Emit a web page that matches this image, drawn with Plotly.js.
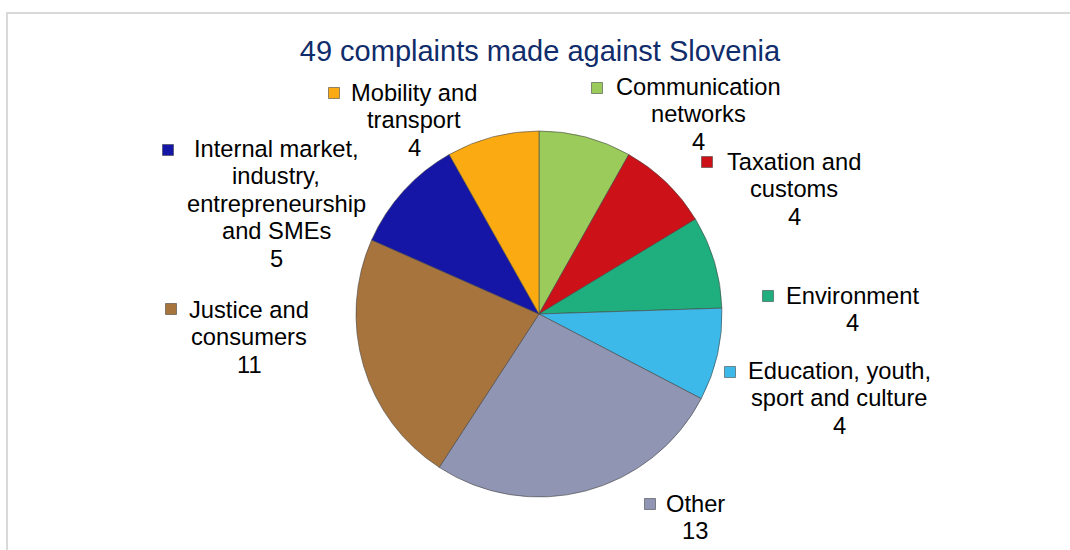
<!DOCTYPE html>
<html>
<head>
<meta charset="utf-8">
<script src="https://cdn.plot.ly/plotly-3.0.1.min.js"></script>
<style>
  html, body { margin: 0; padding: 0; background: #ffffff; }
  #chart { width: 1070px; height: 550px; }
</style>
</head>
<body>
<div id="chart"></div>
<script>
// ---- data ----
const chartTitle = "49 complaints made against Slovenia";
const categories = [
  "Communication<br>networks",
  "Taxation and<br>customs",
  "Environment",
  "Education, youth,<br>sport and culture",
  "Other",
  "Justice and<br>consumers",
  "Internal market,<br>industry,<br>entrepreneurship<br>and SMEs",
  "Mobility and<br>transport"
];
const complaints = [4, 4, 4, 4, 13, 11, 5, 4];
const sliceColors = ["#9BCB5B", "#CC1218", "#1FAF7E", "#3CB9E8", "#8F95B2", "#A8743D", "#1616A6", "#FBAA12"];

// ---- layout helpers (pixel positions of labels, not data) ----
const W = 1070, H = 550;
const labelAnchor = [[698, 95], [794, 170], [852, 304], [839, 379], [695, 512], [249, 318], [276, 157], [414, 101]];
const keyAnchor   = [[597, 88], [707, 162], [768, 296], [730, 372], [650, 504], [171, 309], [168, 150], [334, 93]];
const lineGap = 27.5;
const labelFont = 23.7;
const px = x => x / W;
const py = y => 1 - y / H;

const annotations = [];
const shapes = [];
categories.forEach((cat, i) => {
  const lines = cat.split("<br>").concat([String(complaints[i])]);
  const [cx, by] = labelAnchor[i];
  lines.forEach((ln, k) => {
    const baseline = by + k * lineGap;
    annotations.push({
      xref: "paper", yref: "paper",
      x: px(cx), y: py(baseline - 0.3465 * labelFont),
      xanchor: "center", yanchor: "middle",
      text: ln, showarrow: false,
      font: { family: "Liberation Sans, Arial, sans-serif", size: labelFont, color: "#000000" }
    });
  });
  const [kx, ky] = keyAnchor[i];
  shapes.push({
    type: "rect", xref: "paper", yref: "paper",
    x0: px(kx - 5.5), x1: px(kx + 5.5), y0: py(ky + 5.5), y1: py(ky - 5.5),
    fillcolor: sliceColors[i], line: { color: "rgba(60,60,60,0.55)", width: 1 }
  });
});

// chart frame
shapes.push({
  type: "rect", xref: "paper", yref: "paper",
  x0: px(7), x1: px(1085), y0: py(565), y1: py(13),
  fillcolor: "rgba(0,0,0,0)", line: { color: "#d9d9d9", width: 2 }
});

// pie domain: centre (539,314), radius 183 px
const cxP = 539, cyP = 314, R = 183;

const trace = {
  type: "pie",
  labels: categories,
  values: complaints,
  sort: false,
  direction: "clockwise",
  rotation: 0,
  textinfo: "none",
  hoverinfo: "label+value",
  showlegend: false,
  marker: { colors: sliceColors, line: { color: "rgba(70,70,70,0.6)", width: 1 } },
  domain: { x: [px(cxP - R), px(cxP + R)], y: [py(cyP + R), py(cyP - R)] }
};

const layout = {
  width: W, height: H,
  margin: { l: 0, r: 0, t: 0, b: 0 },
  paper_bgcolor: "#ffffff",
  plot_bgcolor: "#ffffff",
  title: {
    text: chartTitle,
    font: { family: "Liberation Sans, Arial, sans-serif", size: 29, color: "#102C6A" },
    x: 540 / W, xanchor: "center", xref: "paper",
    y: py(61 - 0.3465 * 29), yanchor: "middle", yref: "container"
  },
  annotations: annotations,
  shapes: shapes
};

Plotly.newPlot("chart", [trace], layout, { displayModeBar: false, staticPlot: true });
</script>
</body>
</html>
